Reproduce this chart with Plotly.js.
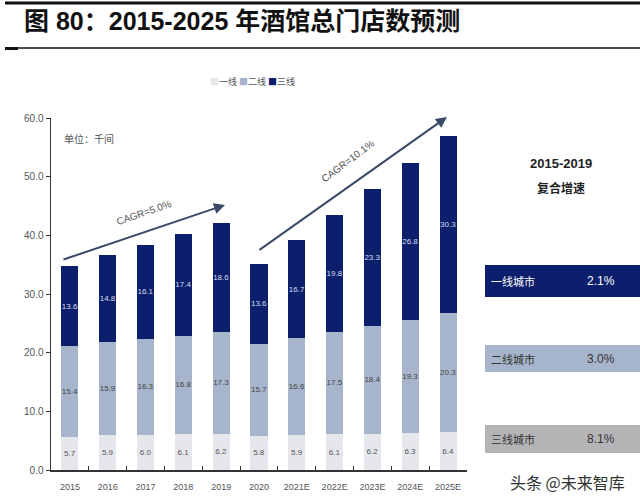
<!DOCTYPE html>
<html><head><meta charset="utf-8">
<script src="https://cdn.plot.ly/plotly-3.0.1.min.js"></script>
<style>html,body{margin:0;padding:0;background:#fff}#chart{width:640px;height:504px}</style>
</head><body><div id="chart"></div>
<script>
const years = ["2015","2016","2017","2018","2019","2020","2021E","2022E","2023E","2024E","2025E"];
const tier1 = [5.7, 5.9, 6.0, 6.1, 6.2, 5.8, 5.9, 6.1, 6.2, 6.3, 6.4];
const tier2 = [15.4, 15.9, 16.3, 16.8, 17.3, 15.7, 16.6, 17.5, 18.4, 19.3, 20.3];
const tier3 = [13.6, 14.8, 16.1, 17.4, 18.6, 13.6, 16.7, 19.8, 23.3, 26.8, 30.3];
const seriesNames = ["一线", "二线", "三线"];
const cityNames = ["一线城市", "二线城市", "三线城市"];
const cagr1519 = ["2.1%", "3.0%", "8.1%"];
const cagrLabels = ["CAGR=5.0%", "CAGR=10.1%"];

const C1 = "#e6e7ec", C2 = "#a6b5cb", C3 = "#0c1f6c";
const W = 640, H = 504;
const px = x => x / W, py = y => 1 - y / H;
const FONT = "Liberation Sans, Arial, Noto Sans CJK SC, sans-serif";
const CJK = "Noto Sans CJK SC, sans-serif";

function barTrace(vals, name, color, txtColor) {
  return {
    type: "bar", x: years, y: vals, name: name,
    marker: {color: color, line: {width: 0}},
    text: vals.map(v => v.toFixed(1)), textposition: "inside",
    insidetextanchor: "middle", textangle: 0, constraintext: "none",
    textfont: {size: 8, color: txtColor, family: FONT},
    hoverinfo: "skip"
  };
}
const data = [
  barTrace(tier1, seriesNames[0], C1, "#555"),
  barTrace(tier2, seriesNames[1], C2, "#444"),
  barTrace(tier3, seriesNames[2], C3, "#d5ddf0")
];

function note(x, y, text, font, extra) {
  return Object.assign({xref: "paper", yref: "paper", x: px(x), y: py(y), xanchor: "center", yanchor: "middle",
    showarrow: false, text: text, font: font}, extra || {});
}

const shapes = [
  {type: "line", xref: "paper", yref: "paper", x0: px(5), x1: px(640), y0: py(3), y1: py(3), line: {color: "#111", width: 3}},
  {type: "line", xref: "paper", yref: "paper", x0: px(5), x1: px(640), y0: py(48), y1: py(48), line: {color: "#111", width: 1.5}},
  {type: "line", xref: "paper", yref: "paper", x0: px(5), x1: px(18), y0: py(48.5), y1: py(48.5), line: {color: "#111", width: 3}}
];
const rowColors = [C3, C2, "#b4b4b6"];
const rowText = ["#ffffff", "#333333", "#333333"];
const rowY = [[265, 297], [345, 372], [425, 453]];
const annotations = [
  note(22, 21, "<b>图 80：2015-2025 年酒馆总门店数预测</b>", {size: 25, color: "#111", family: FONT}, {xanchor: "left"}),
  note(62, 138, "单位：千间", {size: 10, color: "#555", family: CJK}, {xanchor: "left"}),
  note(252, 82, seriesNames.map((n, i) => '<span style="color:' + [C1, C2, C3][i] + '">■</span>' + n).join(" "),
    {size: 9, color: "#555", family: CJK}),
  {xref: "paper", yref: "paper", x: px(225), y: py(205), ax: -163, ay: 55, showarrow: true, arrowhead: 2, arrowsize: 1.1,
   arrowwidth: 2, arrowcolor: "#3b4a68", text: ""},
  {xref: "paper", yref: "paper", x: px(447), y: py(117), ax: -189, ay: 134, showarrow: true, arrowhead: 2, arrowsize: 1.1,
   arrowwidth: 2, arrowcolor: "#3b4a68", text: ""},
  note(144, 212, cagrLabels[0], {size: 10, color: "#555", family: FONT}, {textangle: -19}),
  note(347, 161, cagrLabels[1], {size: 10, color: "#555", family: FONT}, {textangle: -37}),
  note(561, 164, "<b>2015-2019</b>", {size: 13, color: "#222", family: FONT}),
  note(561, 187, "<b>复合增速</b>", {size: 12, color: "#222", family: CJK}),
  note(567, 482, "头条 @未来智库", {size: 16, color: "#333", family: CJK})
];
cityNames.forEach((n, i) => {
  shapes.push({type: "rect", xref: "paper", yref: "paper", x0: px(485), x1: px(640), y0: py(rowY[i][1]), y1: py(rowY[i][0]),
    fillcolor: rowColors[i], line: {width: 0}, layer: "below"});
  const ym = (rowY[i][0] + rowY[i][1]) / 2;
  annotations.push(note(489, ym, n, {size: 11, color: rowText[i], family: CJK}, {xanchor: "left"}));
  annotations.push(note(601, ym, cagr1519[i], {size: 12, color: rowText[i], family: FONT}));
});

const layout = {
  width: W, height: H,
  margin: {l: 0, r: 0, t: 0, b: 0},
  paper_bgcolor: "#fff", plot_bgcolor: "#fff",
  showlegend: false,
  barmode: "stack", bargap: 0.55,
  font: {family: FONT, color: "#555"},
  xaxis: {domain: [px(51), px(467)], type: "category", showgrid: false, zeroline: false,
    showline: true, linecolor: "#333", linewidth: 1.5, ticks: "inside", tickson: "boundaries", ticklen: 4,
    tickcolor: "#333", tickangle: 0, ticklabelstandoff: 8, tickfont: {size: 9, color: "#555"}, fixedrange: true},
  yaxis: {domain: [py(470), py(118)], range: [0, 60], dtick: 10, tickformat: ".1f", showgrid: false,
    zeroline: false, showline: true, linecolor: "#333", linewidth: 1.5, ticks: "outside", ticklen: 4,
    tickcolor: "#333", tickfont: {size: 10, color: "#555"}, fixedrange: true},
  shapes: shapes, annotations: annotations
};
Plotly.newPlot("chart", data, layout, {staticPlot: true, displayModeBar: false});
</script></body></html>
